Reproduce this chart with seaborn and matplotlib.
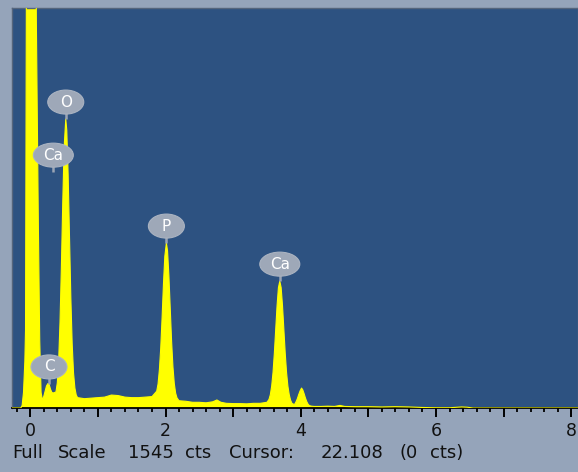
import matplotlib
matplotlib.use("Agg")
import matplotlib.pyplot as plt
from matplotlib.patches import Ellipse
from matplotlib.ticker import MultipleLocator, FuncFormatter
import seaborn as sns
import pandas as pd

# EDS spectrum: energy (keV) and counts per channel
energy_kev = [
    -0.27, -0.14, -0.12, -0.10, -0.08, -0.07, -0.06, -0.05, -0.03, 0.00,
    0.03, 0.06, 0.09, 0.12, 0.14, 0.16, 0.18, 0.20, 0.22, 0.24,
    0.26, 0.277, 0.30, 0.32, 0.34, 0.36, 0.38, 0.40, 0.42, 0.44,
    0.46, 0.48, 0.50, 0.525, 0.54, 0.56, 0.58, 0.60, 0.62, 0.64,
    0.66, 0.68, 0.70, 0.75, 0.80, 0.90, 1.00, 1.10, 1.20, 1.30,
    1.40, 1.50, 1.60, 1.70, 1.80, 1.87, 1.89, 1.91, 1.93, 1.95,
    1.97, 1.99, 2.013, 2.03, 2.05, 2.07, 2.09, 2.11, 2.13, 2.15,
    2.17, 2.20, 2.30, 2.40, 2.50, 2.60, 2.70, 2.76, 2.82, 2.90,
    3.00, 3.10, 3.20, 3.30, 3.40, 3.50, 3.53, 3.55, 3.57, 3.59,
    3.61, 3.63, 3.65, 3.67, 3.69, 3.71, 3.73, 3.75, 3.77, 3.79,
    3.81, 3.83, 3.85, 3.87, 3.89, 3.91, 3.93, 3.95, 3.97, 3.99,
    4.012, 4.03, 4.05, 4.07, 4.09, 4.11, 4.13, 4.16, 4.20, 4.30,
    4.40, 4.50, 4.58, 4.65, 4.80, 5.00, 5.20, 5.40, 5.60, 5.80,
    6.00, 6.20, 6.38, 6.46, 6.55, 8.10,
]
counts = [
    0, 0, 10, 60, 180, 300, 1300, 2500, 4500, 5500,
    4500, 2800, 1500, 700, 260, 60, 30, 45, 65, 85,
    94, 93, 72, 60, 58, 60, 62, 97, 183, 331,
    540, 786, 1001, 1116, 1073, 902, 663, 427, 247, 135,
    77, 50, 40, 38, 36, 38, 40, 42, 50, 48,
    42, 40, 40, 42, 44, 65, 93, 149, 234, 351,
    480, 586, 637, 607, 512, 384, 258, 159, 94, 57,
    39, 28, 26, 22, 22, 20, 24, 31, 22, 18,
    17, 17, 16, 18, 18, 22, 33, 51, 84, 137,
    213, 305, 396, 465, 490, 465, 396, 305, 213, 137,
    84, 51, 30, 18, 15, 14, 24, 36, 52, 66,
    77, 70, 55, 38, 24, 14, 9, 7, 6, 6,
    7, 6, 10, 6, 5, 5, 4, 5, 4, 2,
    1, 1, 4, 3, 0, 0,
]

# Element markers: label, line energy (keV), marker height (counts)
marker_labels = ["C", "O", "Ca", "P", "Ca"]
marker_energy = [0.277, 0.525, 0.341, 2.013, 3.690]
marker_height = [93, 1116, 911, 637, 490]

full_scale = 1545
cursor_kev = 22.108
cursor_cts = 0

spectrum = pd.DataFrame({"energy": energy_kev, "counts": counts})

sns.set_theme(style="white")
plt.rcParams["font.family"] = ["DejaVu Sans"]

fig_bg = "#95a4ba"
plot_bg = "#2d5281"
yellow = "#ffff00"

W, H = 578, 472
fig = plt.figure(figsize=(W / 100, H / 100), dpi=100)
fig.patch.set_facecolor(fig_bg)
ax = fig.add_axes([12 / W, 1 - 408 / H, 1 - 12 / W, 400 / H])
ax.set_facecolor(plot_bg)

ax.fill_between(spectrum["energy"], 0, spectrum["counts"], color=yellow,
                linewidth=0, zorder=2)
sns.lineplot(data=spectrum, x="energy", y="counts", color=yellow,
             linewidth=0.8, ax=ax, zorder=3)

ax.set_xlim(-0.27, 8.10)
ax.set_ylim(0, full_scale)
ax.set_xlabel("")
ax.set_ylabel("")
ax.set_yticks([])

ax.xaxis.set_major_locator(MultipleLocator(1))
ax.xaxis.set_minor_locator(MultipleLocator(0.2))
ax.xaxis.set_major_formatter(
    FuncFormatter(lambda v, p: f"{int(round(v))}" if round(v) % 2 == 0 else ""))
ax.tick_params(axis="x", which="major", direction="out", length=6.5,
               width=1.4, color="black", pad=3.5, labelsize=12.5,
               labelcolor="#111111", bottom=True)
ax.tick_params(axis="x", which="minor", direction="out", length=3.2,
               width=1.3, color="black", bottom=True)

for side in ["top", "left", "right"]:
    ax.spines[side].set_color("#55657c")
    ax.spines[side].set_linewidth(1.0)
ax.spines["bottom"].set_color("black")
ax.spines["bottom"].set_linewidth(1.3)

# Element labels: grey badge on a short stem above each line
px_x = 67.6                # pixels per keV
px_y = 400 / full_scale    # pixels per count
badge_gap = 17             # pixels from marker to badge centre
for name, e, h in zip(marker_labels, marker_energy, marker_height):
    cy = h + badge_gap / px_y
    w_px = 40 if len(name) > 1 else 36
    ax.plot([e, e], [h, h + 7 / px_y], color="#9aa4b4", linewidth=1.8,
            zorder=4, solid_capstyle="butt")
    ax.add_patch(Ellipse((e, cy), width=w_px / px_x, height=24 / px_y,
                         facecolor="#9ea8b8", edgecolor="#aab3c1",
                         linewidth=0.8, zorder=5))
    ax.text(e, cy, name, color="white", fontsize=11, ha="center",
            va="center", zorder=6)

# Status line, laid out word by word in the wide instrument font spacing
status_words = ["Full", "Scale", f"{full_scale}", "cts", "Cursor:",
                f"{cursor_kev:.3f}", f"({cursor_cts}", "cts)"]
status_x_px = [12, 58, 128, 185, 229, 321, 400, 430]
for word, xp in zip(status_words, status_x_px):
    fig.text(xp / W, 1 - 458 / H, word, fontsize=13, color="#111111",
             ha="left", va="baseline")

fig.savefig("out.png", dpi=100, facecolor=fig.get_facecolor())
